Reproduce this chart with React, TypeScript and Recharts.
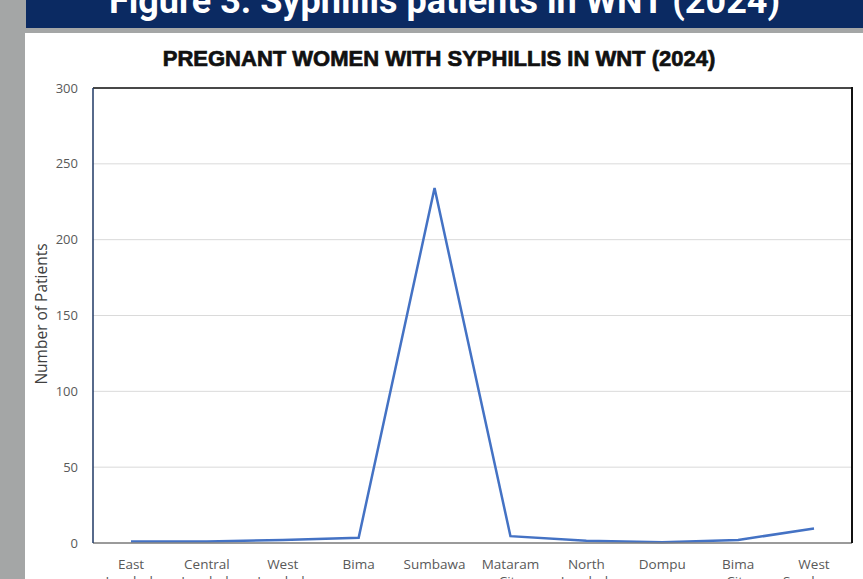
import React from 'react';
import { LineChart, Line, XAxis, YAxis, CartesianGrid } from 'recharts';

const regions = [
  'East Lombok',
  'Central Lombok',
  'West Lombok',
  'Bima',
  'Sumbawa',
  'Mataram City',
  'North Lombok',
  'Dompu',
  'Bima City',
  'West Sumbawa',
];
const patients = [1, 1, 2, 3.5, 234, 4.5, 1.5, 0.5, 2, 9.5];
const yTicks = [0, 50, 100, 150, 200, 250, 300];

const data = regions.map((region, i) => ({ region, patients: patients[i] }));

const FONT = '"Open Sans", "Liberation Sans", sans-serif';

interface TickProps {
  x?: number;
  y?: number;
  payload?: { value: string };
}

const RegionTick: React.FC<TickProps> = ({ x, y, payload }) => {
  if (typeof x !== 'number' || typeof y !== 'number' || !payload) {
    return null;
  }
  const words = payload.value.split(' ');
  return (
    <text x={x} y={y} textAnchor="middle" fill="#595959" fontSize={13.5} fontFamily={FONT}>
      {words.map((word, i) => (
        <tspan key={word + i} x={x} dy={i === 0 ? 18 : 17}>
          {word}
        </tspan>
      ))}
    </text>
  );
};

const App: React.FC = () => {
  return (
    <div
      style={{
        position: 'absolute',
        left: 0,
        top: 0,
        width: 863,
        height: 579,
        overflow: 'hidden',
        background: '#a4a6a6',
      }}
    >
      <div
        style={{
          position: 'absolute',
          left: 26,
          top: 0,
          width: 837,
          height: 28,
          background: '#0b2a62',
          overflow: 'hidden',
        }}
      >
        <div
          style={{
            position: 'absolute',
            left: 0,
            width: 837,
            top: -19,
            textAlign: 'center',
            color: '#ffffff',
            fontFamily: 'Roboto, "Open Sans", sans-serif',
            fontWeight: 700,
            fontSize: 36,
            lineHeight: '40px',
          }}
        >
          Figure 3. Syphillis patients in WNT (2024)
        </div>
      </div>
      <div
        style={{
          position: 'absolute',
          left: 25,
          top: 33,
          width: 838,
          height: 546,
          background: '#ffffff',
        }}
      />
      <div
        style={{
          position: 'absolute',
          left: 0,
          top: 45,
          width: 878,
          textAlign: 'center',
          fontFamily: '"Liberation Sans", Arial, sans-serif',
          fontWeight: 700,
          fontSize: 22,
          lineHeight: '28px',
          color: '#111111',
          WebkitTextStroke: '0.7px #111111',
        }}
      >
        PREGNANT WOMEN WITH SYPHILLIS IN WNT (2024)
      </div>
      <div
        style={{
          position: 'absolute',
          left: 41,
          top: 314,
          transform: 'translate(-50%, -50%) rotate(-90deg)',
          whiteSpace: 'nowrap',
          fontFamily: FONT,
          fontSize: 15.5,
          color: '#404040',
        }}
      >
        Number of Patients
      </div>
      <div style={{ position: 'absolute', left: 0, top: 0 }}>
        <LineChart width={863} height={579} data={data} margin={{ top: 87, right: 11, left: 0, bottom: 0 }}>
          <CartesianGrid vertical={false} stroke="#dadada" strokeWidth={1} />
          <XAxis
            dataKey="region"
            interval={0}
            height={36}
            padding={{ left: 38, right: 38 }}
            axisLine={{ stroke: '#7f7f7f', strokeWidth: 1.5 }}
            tickLine={false}
            tickSize={0}
            tickMargin={8}
            tick={<RegionTick />}
          />
          <XAxis
            xAxisId="top"
            orientation="top"
            dataKey="region"
            height={1}
            padding={{ left: 38, right: 38 }}
            tick={false}
            tickLine={false}
            axisLine={{ stroke: '#111111', strokeWidth: 1.5 }}
          />
          <YAxis
            domain={[0, 300]}
            ticks={yTicks}
            width={93}
            interval={0}
            axisLine={{ stroke: '#1f3864', strokeWidth: 1.5 }}
            tickLine={false}
            tickSize={0}
            tickMargin={15}
            tick={{ fill: '#595959', fontSize: 13, fontFamily: FONT }}
          />
          <Line
            type="linear"
            dataKey="patients"
            stroke="#4472c4"
            strokeWidth={2.5}
            dot={false}
            isAnimationActive={false}
          />
        </LineChart>
      </div>
      {/* right side of the plot frame */}
      <div
        style={{
          position: 'absolute',
          left: 851,
          top: 87,
          width: 2,
          height: 456,
          background: '#111111',
        }}
      />
    </div>
  );
};

export default App;
